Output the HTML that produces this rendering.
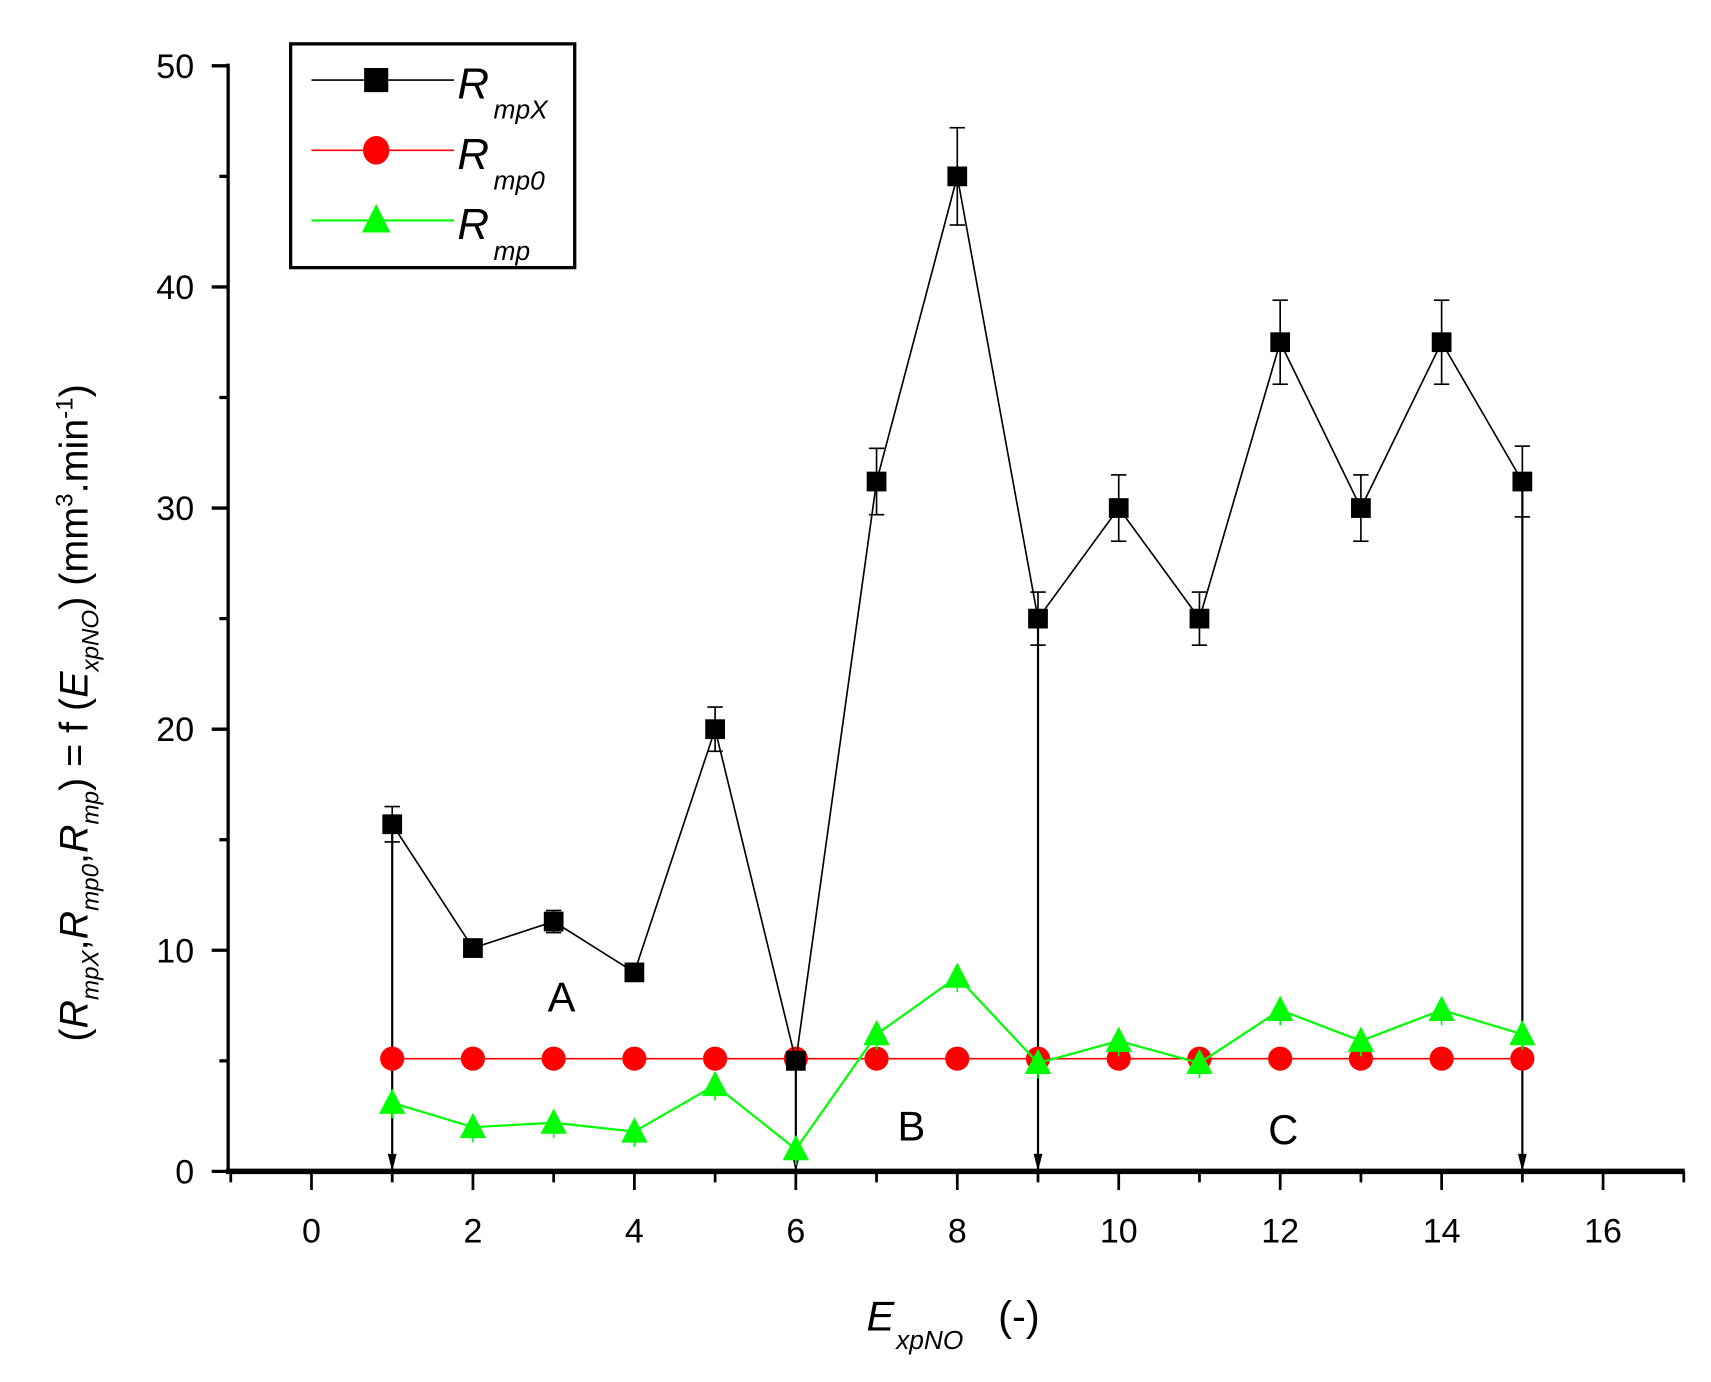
<!DOCTYPE html>
<html><head><meta charset="utf-8"><style>
html,body{margin:0;padding:0;background:#fff;}
svg{display:block;font-family:"Liberation Sans",Arial,sans-serif;}
</style></head><body>
<svg id="s" width="1711" height="1382" viewBox="0 0 1560 1260" preserveAspectRatio="none" xmlns="http://www.w3.org/2000/svg">
<rect width="1560" height="1260" fill="#fff"/>
<g id="g"></g>
<!-- legend -->
<rect x="265" y="40" width="259" height="204" fill="#fff" stroke="#000" stroke-width="3"/>
<line x1="284" y1="73" x2="414" y2="73" stroke="#000" stroke-width="1.5"/>
<rect x="332" y="62" width="22" height="22" fill="#000"/>
<line x1="284" y1="137" x2="414" y2="137" stroke="#f00" stroke-width="1.5"/>
<ellipse cx="343" cy="137" rx="12" ry="13" fill="#f00"/>
<line x1="284" y1="201" x2="414" y2="201" stroke="#0f0" stroke-width="2"/>
<polygon points="343,186 330,212 356,212" fill="#0f0"/>
<text x="417" y="90" font-size="40" font-style="italic">R</text><text x="450" y="108" font-size="24" font-style="italic">mpX</text>
<text x="417" y="154" font-size="40" font-style="italic">R</text><text x="450" y="173" font-size="24" font-style="italic">mp0</text>
<text x="417" y="218" font-size="40" font-style="italic">R</text><text x="450" y="237" font-size="24" font-style="italic">mp</text>
<!-- labels -->
<text x="512" y="922" font-size="38" text-anchor="middle">A</text>
<text x="831" y="1040" font-size="38" text-anchor="middle">B</text>
<text x="1170" y="1043" font-size="38" text-anchor="middle">C</text>
<text x="790" y="1213" font-size="38" font-style="italic">E</text>
<text x="817" y="1230" font-size="24" font-style="italic">xpNO</text>
<text x="910" y="1213" font-size="38">(-)</text>
<g transform="translate(80,650) rotate(-90)">
<text x="0" y="0" font-size="36" text-anchor="middle">(<tspan font-style="italic">R</tspan><tspan font-size="22" font-style="italic" dy="10">mpX</tspan><tspan dy="-10">,</tspan><tspan font-style="italic">R</tspan><tspan font-size="22" font-style="italic" dy="10">mp0</tspan><tspan dy="-10">,</tspan><tspan font-style="italic">R</tspan><tspan font-size="22" font-style="italic" dy="10">mp</tspan><tspan dy="-10">) = f (</tspan><tspan font-style="italic">E</tspan><tspan font-size="22" font-style="italic" dy="10">xpNO</tspan><tspan dy="-10">) (mm</tspan><tspan font-size="22" dy="-14">3</tspan><tspan dy="14">.min</tspan><tspan font-size="22" dy="-14">-1</tspan><tspan dy="14">)</tspan></text>
</g>
</svg>
<script>
var g=document.getElementById('g'),h='';
function X(v){return 284+73.6*v;}function Y(v){return 1068-20.16*v;}
function L(a,b,c,d,col,w){h+='<line x1="'+a+'" y1="'+b+'" x2="'+c+'" y2="'+d+'" stroke="'+(col||'#000')+'" stroke-width="'+(w||1.5)+'"/>';}
// axes
L(208,58,208,1070,'#000',3);L(206,1068,1536,1068,'#000',5);
for(var v=0;v<=50;v+=5){var maj=v%10==0;L(maj?193:200,Y(v),208,Y(v),'#000',3);
 if(maj)h+='<text x="177" y="'+(Y(v)+11)+'" font-size="31" text-anchor="end">'+v+'</text>';}
for(var v=-1;v<=17;v++){var maj=v%2==0;L(X(v),1068,X(v),maj?1085:1078,'#000',2.5);
 if(maj)h+='<text x="'+X(v)+'" y="'+1133+'" font-size="31" text-anchor="middle">'+v+'</text>';}
var a=[15.7,10.1,11.3,9,20,5,31.2,45,25,30,25,37.5,30,37.5,31.2];
var e=[0.8,0.3,0.5,0.3,1,0.3,1.5,2.2,1.2,1.5,1.2,1.9,1.5,1.9,1.6];
var c=[3.1,2.0,2.2,1.8,3.9,1.0,6.2,8.8,4.9,5.9,4.9,7.3,5.9,7.3,6.2];
// arrows
[[1,15.7],[6,5],[9,25],[15,31.2]].forEach(function(p){var x=X(p[0]);L(x,Y(p[1]),x,1066,'#000',2);
 h+='<polygon points="'+(x-4)+',1052 '+(x+4)+',1052 '+x+',1068" fill="#000"/>';});
// red
var pr='';for(var i=0;i<15;i++)pr+=X(i+1)+','+Y(5.1)+' ';
h+='<polyline points="'+pr+'" fill="none" stroke="#f00" stroke-width="1.5"/>';
for(var i=0;i<15;i++)h+='<ellipse cx="'+X(i+1)+'" cy="'+Y(5.1)+'" rx="11" ry="11" fill="#f00"/>';
// green
var pg='';for(var i=0;i<15;i++)pg+=X(i+1)+','+Y(c[i])+' ';
h+='<polyline points="'+pg+'" fill="none" stroke="#0f0" stroke-width="2"/>';
for(var i=0;i<15;i++){var x=X(i+1),y=Y(c[i]);L(x,y-12,x,y+14,'#0f0',1.5);
 h+='<polygon points="'+x+','+(y-13)+' '+(x-12)+','+(y+10)+' '+(x+12)+','+(y+10)+'" fill="#0f0"/>';}
// black
var pb='';for(var i=0;i<15;i++)pb+=X(i+1)+','+Y(a[i])+' ';
h+='<polyline points="'+pb+'" fill="none" stroke="#000" stroke-width="1.5"/>';
for(var i=0;i<15;i++){var x=X(i+1),y=Y(a[i]),t=Y(a[i]+e[i]),b=Y(a[i]-e[i]);
 L(x,t,x,b);L(x-7,t,x+7,t);L(x-7,b,x+7,b);
 h+='<rect x="'+(x-9)+'" y="'+(y-9)+'" width="18" height="18" fill="#000"/>';}
g.innerHTML=h;
</script>
</body></html>
